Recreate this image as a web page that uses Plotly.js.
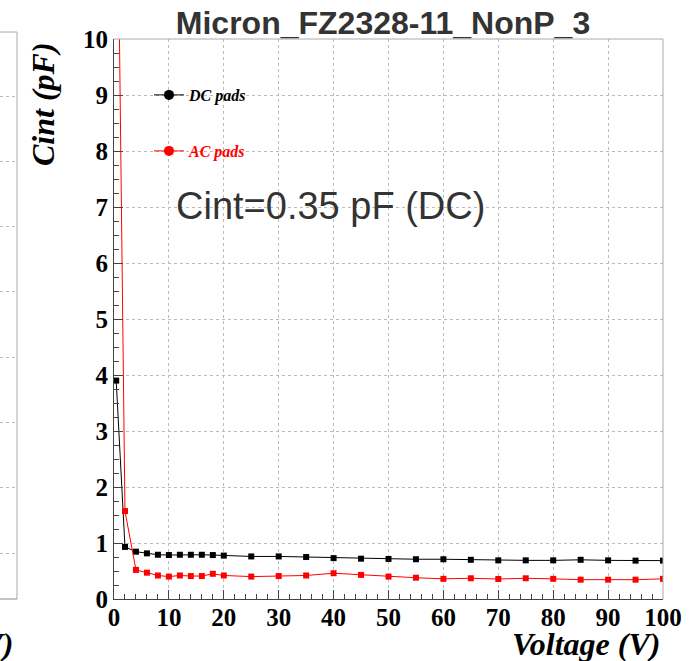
<!DOCTYPE html>
<html>
<head>
<meta charset="utf-8">
<script src="https://cdn.plot.ly/plotly-3.0.1.min.js"></script>
<style>html,body{margin:0;padding:0;background:#fff;}#chart{width:690px;height:661px;}</style>
</head>
<body>
<div id="chart"></div>
<script>
// Data
const voltage = [0.4, 2, 4, 6, 8, 10, 12, 14, 16, 18, 20, 25, 30, 35, 40, 45, 50, 55, 60, 65, 70, 75, 80, 85, 90, 95, 100];
const dcPads  = [3.9, 0.93, 0.845, 0.815, 0.79, 0.785, 0.79, 0.79, 0.79, 0.785, 0.775, 0.76, 0.76, 0.75, 0.73, 0.72, 0.715, 0.71, 0.71, 0.70, 0.69, 0.69, 0.69, 0.70, 0.69, 0.685, 0.685];
const acPads  = [15, 1.57, 0.52, 0.47, 0.42, 0.40, 0.42, 0.41, 0.41, 0.45, 0.42, 0.40, 0.41, 0.42, 0.46, 0.43, 0.40, 0.38, 0.36, 0.37, 0.357, 0.37, 0.36, 0.345, 0.345, 0.345, 0.36];
const seriesNames = ['DC pads', 'AC pads'];
const xTickVals = [0, 10, 20, 30, 40, 50, 60, 70, 80, 90, 100];
const yTickVals = [0, 1, 2, 3, 4, 5, 6, 7, 8, 9, 10];
const chartTitle = 'Micron_FZ2328-11_NonP_3';
const noteText = 'Cint=0.35 pF (DC)';
const xTitle = 'Voltage (V)';
const yTitle = 'Cint (pF)';

const W = 690, H = 661;
const ML = 0, MR = 27, MT = 32, MB = 62;
const PW = W - ML - MR, PH = H - MT - MB;
const px = v => (v - ML) / PW;          // pixel x -> paper x
const py = v => (H - MB - v) / PH;      // pixel y -> paper y

const serif = 'Liberation Serif, Times New Roman, serif';
const sans = 'Liberation Sans, Arial, sans-serif';

const traces = [
  {x: voltage, y: dcPads, name: seriesNames[0], type: 'scatter', mode: 'lines+markers',
   line: {color: '#000000', width: 1}, marker: {symbol: 'square', size: 6, color: '#000000'},
   xaxis: 'x', yaxis: 'y', showlegend: false},
  {x: voltage, y: acPads, name: seriesNames[1], type: 'scatter', mode: 'lines+markers',
   line: {color: '#ff0000', width: 1}, marker: {symbol: 'square', size: 6, color: '#ff0000'},
   xaxis: 'x', yaxis: 'y', showlegend: false},
  // legend entries (ROOT-style round markers)
  {x: [null], y: [null], name: seriesNames[0], type: 'scatter', mode: 'lines+markers',
   line: {color: '#000000', width: 1}, marker: {symbol: 'circle', size: 10, color: '#000000'},
   xaxis: 'x', yaxis: 'y', legend: 'legend', hoverinfo: 'skip'},
  {x: [null], y: [null], name: seriesNames[1], type: 'scatter', mode: 'lines+markers',
   line: {color: '#ff0000', width: 1}, marker: {symbol: 'circle', size: 10, color: '#ff0000'},
   xaxis: 'x', yaxis: 'y', legend: 'legend2', hoverinfo: 'skip'},
  // empty partial panel on the far left
  {x: [0, 1], y: [0, 1], type: 'scatter', mode: 'none', showlegend: false, hoverinfo: 'skip',
   xaxis: 'x2', yaxis: 'y2'}
];

const tickFont = {family: serif, size: 25, color: '#000', weight: 'bold'};

const layout = {
  width: W, height: H,
  margin: {l: ML, r: MR, t: MT, b: MB, pad: 0},
  paper_bgcolor: '#ffffff', plot_bgcolor: 'rgba(0,0,0,0)',
  showlegend: true,
  title: {text: chartTitle, font: {family: sans, size: 32, color: '#333333', weight: 'bold'},
          xref: 'container', yref: 'container', x: 383 / W, xanchor: 'center', y: 1 - 23 / H, yanchor: 'middle'},
  xaxis: {domain: [px(114), 1], range: [0, 100], tickvals: xTickVals, ticks: 'inside', ticklen: 9,
          tickcolor: '#444', tickwidth: 1, tickfont: tickFont, showline: true, linecolor: '#444', linewidth: 1,
          showgrid: true, gridcolor: '#bbbbbb', griddash: 'dot', gridwidth: 1, zeroline: false,
          minor: {dtick: 2, ticks: 'inside', ticklen: 5, tickcolor: '#444', showgrid: false},
          anchor: 'y', ticklabelstandoff: -4, fixedrange: true},
  yaxis: {domain: [0, py(39)], range: [0, 10], tickvals: yTickVals, ticks: 'inside', ticklen: 9,
          tickcolor: '#444', tickwidth: 1, tickfont: tickFont, showline: true, linecolor: '#444', linewidth: 1,
          showgrid: true, gridcolor: '#bbbbbb', griddash: 'dot', gridwidth: 1, zeroline: false,
          minor: {dtick: 0.25, ticks: 'inside', ticklen: 5, tickcolor: '#444', showgrid: false},
          anchor: 'x', ticklabelstandoff: 0, fixedrange: true},
  xaxis2: {domain: [0, px(17)], range: [0, 1], showgrid: false, showticklabels: false, ticks: '',
           zeroline: false, showline: false, anchor: 'y2', fixedrange: true},
  yaxis2: {domain: [0, 1], range: [0.3, 8.98], dtick: 1, showgrid: true, gridcolor: '#bbbbbb', griddash: 'dot',
           showticklabels: false, ticks: '', zeroline: false, showline: false, anchor: 'x2', fixedrange: true},
  legend: {x: px(149), y: py(95), xanchor: 'left', yanchor: 'middle', bgcolor: 'rgba(0,0,0,0)', borderwidth: 0,
           font: {family: serif, size: 16, color: '#000000', style: 'italic', weight: 'bold'}, itemwidth: 30},
  legend2: {x: px(149), y: py(151), xanchor: 'left', yanchor: 'middle', bgcolor: 'rgba(0,0,0,0)', borderwidth: 0,
           font: {family: serif, size: 16, color: '#ff0000', style: 'italic', weight: 'bold'}, itemwidth: 30},
  shapes: [
    // main frame top and right (light)
    {type: 'line', xref: 'paper', yref: 'paper', x0: px(114), x1: 1, y0: py(39), y1: py(39), line: {color: '#aaaaaa', width: 1}},
    {type: 'line', xref: 'paper', yref: 'paper', x0: 1, x1: 1, y0: 0, y1: py(39), line: {color: '#aaaaaa', width: 1}},
    // partial left panel frame
    {type: 'line', xref: 'paper', yref: 'paper', x0: px(17), x1: px(17), y0: 0, y1: 1, line: {color: '#aaaaaa', width: 1}},
    {type: 'line', xref: 'paper', yref: 'paper', x0: -0.01, x1: px(17), y0: 1, y1: 1, line: {color: '#aaaaaa', width: 1}},
    {type: 'line', xref: 'paper', yref: 'paper', x0: -0.01, x1: px(17), y0: 0, y1: 0, line: {color: '#888888', width: 1}}
  ],
  annotations: [
    {text: noteText, xref: 'paper', yref: 'paper', x: px(174), y: py(206), xanchor: 'left', yanchor: 'middle',
     showarrow: false, font: {family: sans, size: 38, color: '#333333'}},
    {text: yTitle, xref: 'paper', yref: 'paper', x: px(43), y: py(40), xanchor: 'center', yanchor: 'top',
     textangle: -90, showarrow: false, font: {family: serif, size: 32, color: '#000', style: 'italic', weight: 'bold'}},
    {text: xTitle, xref: 'paper', yref: 'paper', x: px(662), y: py(644), xanchor: 'right', yanchor: 'middle',
     showarrow: false, font: {family: serif, size: 32, color: '#000', style: 'italic', weight: 'bold'}},
    {text: xTitle, xref: 'paper', yref: 'paper', x: px(15), y: py(644), xanchor: 'right', yanchor: 'middle',
     showarrow: false, font: {family: serif, size: 32, color: '#000', style: 'italic', weight: 'bold'}}
  ]
};

Plotly.newPlot('chart', traces, layout, {displayModeBar: false, staticPlot: true});
</script>
</body>
</html>
